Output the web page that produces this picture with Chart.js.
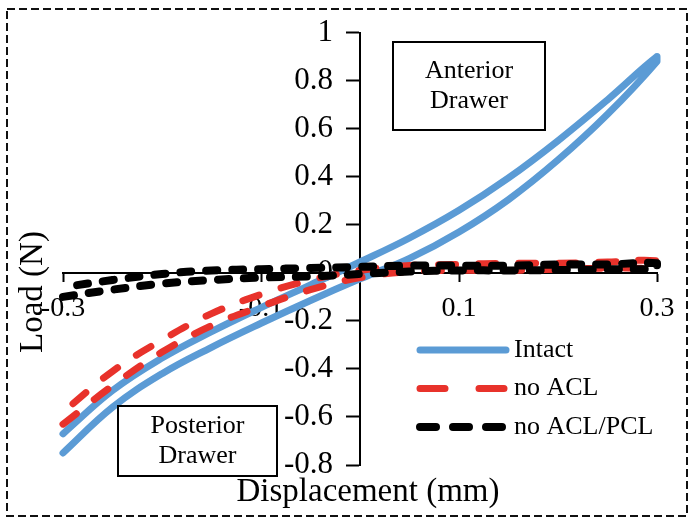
<!DOCTYPE html>
<html>
<head>
<meta charset="utf-8">
<script src="https://cdn.jsdelivr.net/npm/chart.js@4.4.1/dist/chart.umd.min.js"></script>
<style>
  html, body { margin: 0; padding: 0; background: #fff; }
  #wrap { width: 691px; height: 520px; }
</style>
</head>
<body>
<div id="wrap"><canvas id="loadChart" width="691" height="520"></canvas></div>
<script>
const displacement = [-0.3, -0.25, -0.2, -0.15, -0.1, -0.05, 0, 0.05, 0.1, 0.15, 0.2, 0.25, 0.3];

// Load (N), two branches of each loop
const intactUpper = [-0.67, -0.49, -0.355, -0.245, -0.145, -0.05, 0.045, 0.145, 0.26, 0.395, 0.55, 0.72, 0.90];
const intactLower = [-0.75, -0.56, -0.42, -0.31, -0.21, -0.115, -0.025, 0.06, 0.17, 0.305, 0.47, 0.66, 0.88];

const noAclUpper = [-0.58, -0.41, -0.28, -0.17, -0.09, -0.03, 0.01, 0.03, 0.035, 0.04, 0.04, 0.045, 0.05];
const noAclLower = [-0.63, -0.47, -0.33, -0.22, -0.14, -0.07, -0.02, 0.005, 0.01, 0.01, 0.015, 0.02, 0.025];

const noAclPclUpper = [-0.06, -0.03, -0.005, 0.01, 0.015, 0.02, 0.025, 0.03, 0.03, 0.03, 0.035, 0.035, 0.04];
const noAclPclLower = [-0.10, -0.07, -0.045, -0.03, -0.02, -0.015, -0.005, 0.005, 0.01, 0.01, 0.012, 0.015, 0.02];

const xTicks = [-0.3, -0.1, 0.1, 0.3];
const yTicks = [-0.8, -0.6, -0.4, -0.2, 0, 0.2, 0.4, 0.6, 0.8, 1];

const seriesNames = ['Intact', 'no ACL', 'no ACL/PCL'];

// lower branch left->right, then upper branch back right->left
function loop(lower, upper) {
  const pts = lower.map((y, i) => ({ x: displacement[i], y: y }));
  for (let i = upper.length - 1; i >= 0; i--) pts.push({ x: displacement[i], y: upper[i] });
  return pts;
}

const serif = "'Liberation Serif', 'Times New Roman', serif";
const fmt = v => String(Math.round(v * 10) / 10);

// border, axis titles, drawer boxes and legend
const decorations = {
  id: 'decorations',
  afterDraw(chart) {
    const ctx = chart.ctx;
    const area = chart.chartArea;
    ctx.save();

    // dashed frame
    ctx.setLineDash([8, 4]);
    ctx.lineWidth = 2;
    ctx.strokeStyle = '#111';
    ctx.strokeRect(7, 9, 680, 507);
    ctx.setLineDash([]);

    ctx.fillStyle = '#000';
    ctx.font = '33px ' + serif;
    ctx.textAlign = 'center';
    ctx.textBaseline = 'middle';
    ctx.fillText('Displacement (mm)', (area.left + area.right) / 2 + 8, 492);

    ctx.save();
    ctx.translate(33, 292);
    ctx.rotate(-Math.PI / 2);
    ctx.fillText('Load (N)', 0, 0);
    ctx.restore();

    // text boxes
    function box(x, y, w, h, lines) {
      ctx.fillStyle = '#fff';
      ctx.fillRect(x, y, w, h);
      ctx.lineWidth = 2;
      ctx.strokeStyle = '#000';
      ctx.strokeRect(x, y, w, h);
      ctx.fillStyle = '#000';
      ctx.font = '26px ' + serif;
      ctx.fillText(lines[0], x + w / 2, y + h / 2 - 15);
      ctx.fillText(lines[1], x + w / 2, y + h / 2 + 15);
    }
    box(393, 42, 152, 88, ['Anterior', 'Drawer']);
    box(118, 406, 159, 70, ['Posterior', 'Drawer']);

    // legend
    const legendDash = [[], [25, 34], [16, 17]];
    chart.data.datasets.forEach((ds, i) => {
      const y = 350 + i * 38.5;
      ctx.beginPath();
      ctx.lineWidth = ds.borderWidth;
      ctx.strokeStyle = ds.borderColor;
      ctx.lineCap = 'round';
      ctx.setLineDash(legendDash[i]);
      ctx.moveTo(420, y);
      ctx.lineTo(506, y);
      ctx.stroke();
      ctx.setLineDash([]);
      ctx.fillStyle = '#000';
      ctx.font = '26px ' + serif;
      ctx.textAlign = 'left';
      ctx.fillText(ds.label, 514, y);
    });
    ctx.restore();
  }
};

const ctx = document.getElementById('loadChart').getContext('2d');
new Chart(ctx, {
  type: 'scatter',
  data: {
    datasets: [
      {
        label: seriesNames[0],
        data: loop(intactLower, intactUpper),
        borderColor: '#5b9bd5',
        borderWidth: 7,
        order: 3
      },
      {
        label: seriesNames[1],
        data: loop(noAclLower, noAclUpper),
        borderColor: '#e8322b',
        borderWidth: 7,
        borderDash: [17, 23],
        order: 2
      },
      {
        label: seriesNames[2],
        data: loop(noAclPclLower, noAclPclUpper),
        borderColor: '#000000',
        borderWidth: 8,
        borderDash: [11, 15],
        order: 1
      }
    ].map(d => Object.assign(d, {
      showLine: true,
      tension: 0.4,
      pointRadius: 0,
      pointHoverRadius: 0,
      borderCapStyle: 'round',
      borderJoinStyle: 'round',
      clip: false
    }))
  },
  options: {
    responsive: false,
    animation: false,
    layout: { padding: { left: 63, right: 34, top: 27, bottom: 55 } },
    plugins: {
      legend: { display: false },
      tooltip: { enabled: false }
    },
    scales: {
      x: {
        type: 'linear',
        min: -0.3,
        max: 0.3,
        position: { y: 0 },
        afterBuildTicks: scale => { scale.ticks = xTicks.map(v => ({ value: v })); },
        grid: { drawOnChartArea: false, drawTicks: true, tickLength: 8, tickColor: '#000', tickWidth: 2 },
        border: { color: '#000', width: 2 },
        ticks: { color: '#000', font: { family: serif, size: 28 }, padding: 11, maxRotation: 0, autoSkip: false, callback: fmt }
      },
      y: {
        type: 'linear',
        min: -0.8,
        max: 1,
        position: 'center',
        afterBuildTicks: scale => { scale.ticks = yTicks.map(v => ({ value: v })); },
        grid: { drawOnChartArea: false, drawTicks: true, tickLength: 13, tickColor: '#000', tickWidth: 2 },
        border: { color: '#000', width: 2 },
        ticks: { color: '#000', font: { family: serif, size: 31 }, padding: 14, autoSkip: false, callback: fmt }
      }
    }
  },
  plugins: [decorations]
});
</script>
</body>
</html>
